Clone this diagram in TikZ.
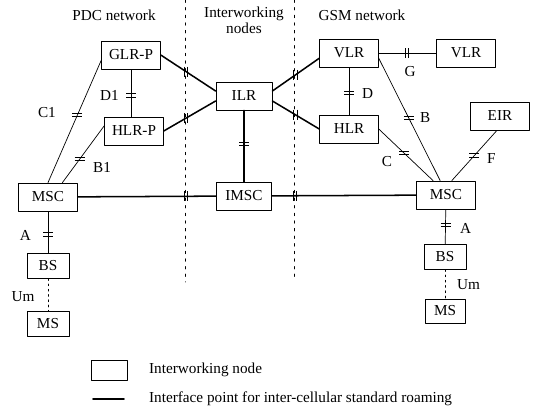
\documentclass[tikz,border=0pt]{standalone}
\usepackage{fontspec}
\setmainfont{Liberation Serif}

\begin{document}
\begin{tikzpicture}[x=0.03cm,y=-0.03cm,line cap=round,line join=round,
  font=\fontsize{13}{14}\selectfont,
  netbox/.style={draw,line width=0.7pt,inner sep=0pt,minimum width=1.76cm,minimum height=0.84cm},
  radiobox/.style={netbox,minimum width=1.26cm,minimum height=0.74cm},
  link/.style={line width=0.6pt},
  iwlink/.style={line width=1.3pt},
  airlink/.style={line width=0.7pt,dash pattern=on 1.5pt off 3pt},
  border/.style={line width=0.8pt,dash pattern=on 2pt off 4.5pt},
  hbar/.pic={\draw[line width=0.7pt,line cap=butt] (-5,-1.6) -- (5,-1.6) (-5,1.6) -- (5,1.6);},
  vbar/.pic={\draw[line width=0.7pt,line cap=butt] (-1.6,-5) -- (-1.6,5) (1.6,-5) -- (1.6,5);}]
  \useasboundingbox (0,0) rectangle (536,411);

  % area borders and headings
  \draw[border] (185,0) -- (185,282);
  \draw[border] (294,0) -- (294,280);
  \node (pdc) at (114,15) {PDC network};
  \node[align=center] (iwn) at (244,20) {Interworking\\nodes};
  \node (gsm) at (362,15) {GSM network};

  % PDC side
  \node[netbox] (glrp) at (131,55) {GLR-P};
  \node[netbox] (hlrp) at (134,131) {HLR-P};
  \node[netbox] (msca) at (48,197) {MSC};
  \node[radiobox] (bsa) at (48,266) {BS};
  \node[radiobox] (msa) at (48,324) {MS};

  % interworking nodes
  \node[netbox,minimum width=1.68cm] (ilr) at (244,96) {ILR};
  \node[netbox,minimum width=1.65cm] (imsc) at (244,196) {IMSC};

  % GSM side
  \node[netbox] (vlra) at (349,53) {VLR};
  \node[netbox] (vlrb) at (466,53) {VLR};
  \node[netbox] (hlr) at (349,129) {HLR};
  \node[netbox] (eir) at (500,116) {EIR};
  \node[netbox] (mscb) at (446,195) {MSC};
  \node[radiobox] (bsb) at (445,257) {BS};
  \node[radiobox,minimum width=1.2cm,minimum height=0.72cm] (msb) at (445,311) {MS};

  % roaming interfaces
  \draw[iwlink] (glrp.east) -- (ilr.170) pic[pos=0.46]{vbar};
  \draw[iwlink] (hlrp.east) -- (ilr.190) pic[pos=0.43]{vbar};
  \draw[iwlink] (msca) -- (imsc) pic[pos=0.78]{vbar};
  \draw[iwlink] (ilr) -- (imsc) pic[pos=0.47]{hbar};
  \draw[iwlink] (imsc) -- (mscb) pic[pos=0.16]{vbar};
  \draw[iwlink] (ilr.10) -- (vlra.190) pic[pos=0.49]{vbar};
  \draw[iwlink] (ilr.350) -- (hlr.west) pic[pos=0.49]{vbar};

  % PDC interfaces
  \draw[link] (glrp.south) -- (glrp.south |- hlrp.north) pic[pos=0.55]{hbar};
  \node[anchor=east] (d1) at (123,95) {D1};
  \draw[link] (msca.north) -- (glrp.190) pic[pos=0.55]{hbar};
  \node[anchor=east] (c1) at (60,113) {C1};
  \draw[link] (msca.45) -- (hlrp.170) pic[pos=0.41]{hbar};
  \node[anchor=west] (b1) at (89,167) {B1};
  \draw[link] (msca) -- (bsa) pic[pos=0.55]{hbar};
  \node[anchor=east] (aa) at (35,235) {A};
  \draw[airlink] (bsa) -- (msa);
  \node (uma) at (23,297) {Um};

  % GSM interfaces
  \draw[link] (vlra) -- (vlrb) pic[pos=0.49]{vbar};
  \node (g) at (410,72) {G};
  \draw[link] (vlra) -- (hlr) pic[pos=0.54]{hbar};
  \node[anchor=west] (d) at (358,94) {D};
  \draw[link] (vlra.350) -- (mscb.112) pic[pos=0.49]{hbar};
  \node[anchor=west] (b) at (416,118) {B};
  \draw[link] (hlr.east) -- (mscb.132) pic[pos=0.47]{hbar};
  \node (c) at (387,162) {C};
  \draw[link] (eir.258) -- (mscb.68) pic[pos=0.5]{hbar};
  \node[anchor=west] (f) at (483,159) {F};
  \draw[link] (mscb) -- (bsb) pic[pos=0.44]{hbar};
  \node[anchor=west] (ab) at (456,228) {A};
  \draw[airlink] (bsb) -- (msb);
  \node[anchor=west] (umb) at (453,285) {Um};

  % legend
  \node[draw,line width=0.7pt,minimum width=1.08cm,minimum height=0.6cm] (keybox) at (109,370) {};
  \node[anchor=west] (keyboxtxt) at (145,370) {Interworking node};
  \coordinate (keyl) at (93,399);
  \coordinate (keyr) at (124,399);
  \draw[iwlink] (keyl) -- (keyr);
  \node[anchor=west] (keylinetxt) at (145,399) {Interface point for inter-cellular standard roaming};
\end{tikzpicture}
\end{document}
